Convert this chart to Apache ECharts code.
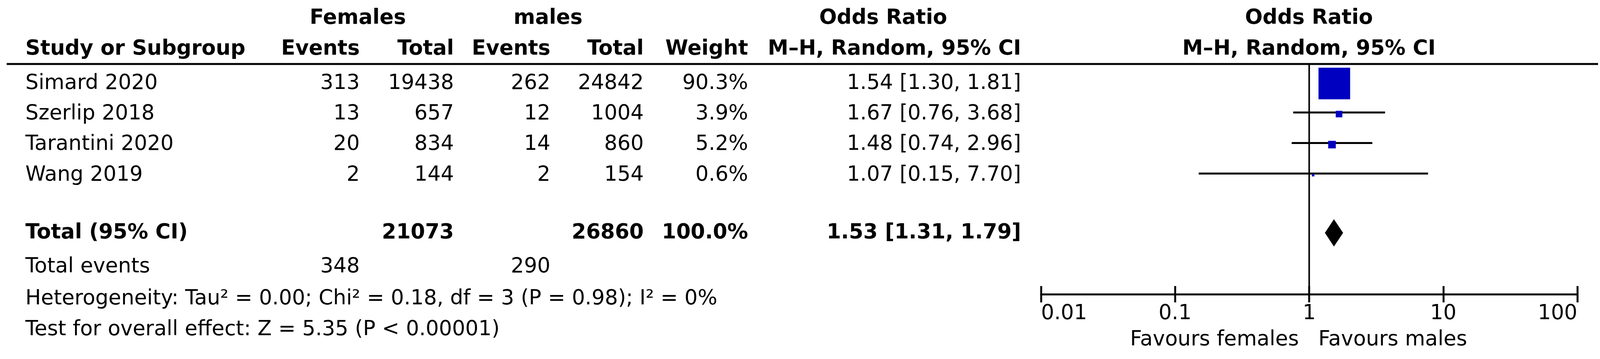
<!DOCTYPE html>
<html><head><meta charset="utf-8">
<script src="https://cdn.jsdelivr.net/npm/echarts@6/dist/echarts.min.js"></script>
<style>html,body{margin:0;background:#fff}#c{width:4113px;height:920px}</style>
</head><body><div id="c"></div>
<script>
const studies = ['Simard 2020','Szerlip 2018','Tarantini 2020','Wang 2019'];
const femEvents = [313,13,20,2];
const femTotal = [19438,657,834,144];
const maleEvents = [262,12,14,2];
const maleTotal = [24842,1004,860,154];
const weights = [90.3,3.9,5.2,0.6];
const orVal = [1.54,1.67,1.48,1.07];
const orLow = [1.30,0.76,0.74,0.15];
const orHigh = [1.81,3.68,2.96,7.70];
const total = {fem:21073, male:26860, w:'100.0%', or:1.53, lo:1.31, hi:1.79};
const totalEvents = [348,290];
const tickLabels = [0.01,0.1,1,10,100];

const FONT = '"DejaVu Sans", sans-serif';
const FS = 53;
const chart = echarts.init(document.getElementById('c'));
const ROW_Y0 = 214, ROW_H = 78.3;
const rowY = i => ROW_Y0 + i*ROW_H;
const TOTAL_ROW = 4.89;

const g = [];
function t(text,x,y,align,bold){g.push({type:'text',x:x,y:y,style:{text:String(text),fontSize:FS,fontFamily:FONT,fontWeight:bold?'bold':'normal',fill:'#000',align:align||'left',verticalAlign:'middle'}});}
t('Females',916,47,'center',true); t('males',1403,47,'center',true); t('Odds Ratio',2261,47,'center',true);
t('Odds Ratio',3351,47,'center',true);
t('Study or Subgroup',65,126,'left',true); t('Events',921,126,'right',true); t('Total',1162,126,'right',true);
t('Events',1409,126,'right',true); t('Total',1648,126,'right',true); t('Weight',1915,126,'right',true);
t('M\u2013H, Random, 95% CI',2614,126,'right',true); t('M\u2013H, Random, 95% CI',3351,126,'center',true);
g.push({type:'line',shape:{x1:17,y1:164,x2:4091,y2:164},style:{stroke:'#000',lineWidth:5}});
const f2=v=>v.toFixed(2);
studies.forEach((s,i)=>{const y=rowY(i);
 t(s,65,y); t(femEvents[i],921,y,'right'); t(femTotal[i],1162,y,'right'); t(maleEvents[i],1409,y,'right');
 t(maleTotal[i],1648,y,'right'); t(weights[i].toFixed(1)+'%',1915,y,'right');
 t(f2(orVal[i])+' ['+f2(orLow[i])+', '+f2(orHigh[i])+']',2614,y,'right');});
const ty=rowY(TOTAL_ROW);
t('Total (95% CI)',65,ty,'left',true); t(total.fem,1162,ty,'right',true); t(total.male,1648,ty,'right',true);
t(total.w,1915,ty,'right',true); t(f2(total.or)+' ['+f2(total.lo)+', '+f2(total.hi)+']',2614,ty,'right',true);
t('Total events',65,684); t(totalEvents[0],921,684,'right'); t(totalEvents[1],1409,684,'right');
t('Heterogeneity: Tau\u00b2 = 0.00; Chi\u00b2 = 0.18, df = 3 (P = 0.98); I\u00b2 = 0%',65,766);
t('Test for overall effect: Z = 5.35 (P < 0.00001)',65,845);
t('Favours females',3325,871,'right'); t('Favours males',3375,871,'left');

const studyData = studies.map((s,i)=>[orVal[i],i,orLow[i],orHigh[i],weights[i]]);
const axisCommon = {type:'log',logBase:10,min:0.01,max:100,splitLine:{show:false}};
chart.setOption({
 animation:false,
 graphic:g,
 grid:{left:2665,right:4113-4038,top:164,bottom:920-754},
 xAxis:[Object.assign({},axisCommon,{position:'bottom',
   axisLine:{onZero:false,lineStyle:{color:'#000',width:5}},
   axisTick:{show:true,length:21,lineStyle:{color:'#000',width:5}},
   axisLabel:{fontSize:FS,fontFamily:FONT,color:'#000',margin:24,formatter:v=>String(v),
     alignMinLabel:'left',alignMaxLabel:'right'}}),
  Object.assign({},axisCommon,{position:'bottom',axisLine:{show:false,onZero:false},
   axisTick:{show:true,inside:true,length:21,lineStyle:{color:'#000',width:5}},axisLabel:{show:false}})],
 yAxis:{type:'value',min:-0.64,max:6.9,inverse:true,show:false},
 series:[
  {type:'line',data:[[1,-0.64],[1,6.9]],symbol:'none',lineStyle:{color:'#000',width:4},z:1},
  {type:'custom',data:studyData,z:3,renderItem:(p,api)=>{
    const c=api.coord([api.value(0),api.value(1)]);
    const lo=api.coord([api.value(2),api.value(1)]), hi=api.coord([api.value(3),api.value(1)]);
    const s=81*Math.sqrt(api.value(4)/90.3);
    const ly=c[1]-4;
    return {type:'group',children:[
     {type:'line',shape:{x1:lo[0],y1:ly,x2:hi[0],y2:ly},style:{stroke:'#000',lineWidth:5}},
     {type:'rect',shape:{x:c[0]-s/2,y:c[1]-s/2,width:s,height:s},style:{fill:'#0000c0'}}]};}},
  {type:'custom',data:[[total.or,TOTAL_ROW,total.lo,total.hi]],z:3,renderItem:(p,api)=>{
    const c=api.coord([api.value(0),api.value(1)]);
    const lo=api.coord([api.value(2),api.value(1)]), hi=api.coord([api.value(3),api.value(1)]);
    return {type:'polygon',shape:{points:[[lo[0],c[1]],[c[0],c[1]-35],[hi[0],c[1]],[c[0],c[1]+35]]},style:{fill:'#000'}};}}
 ]
});
</script></body></html>
